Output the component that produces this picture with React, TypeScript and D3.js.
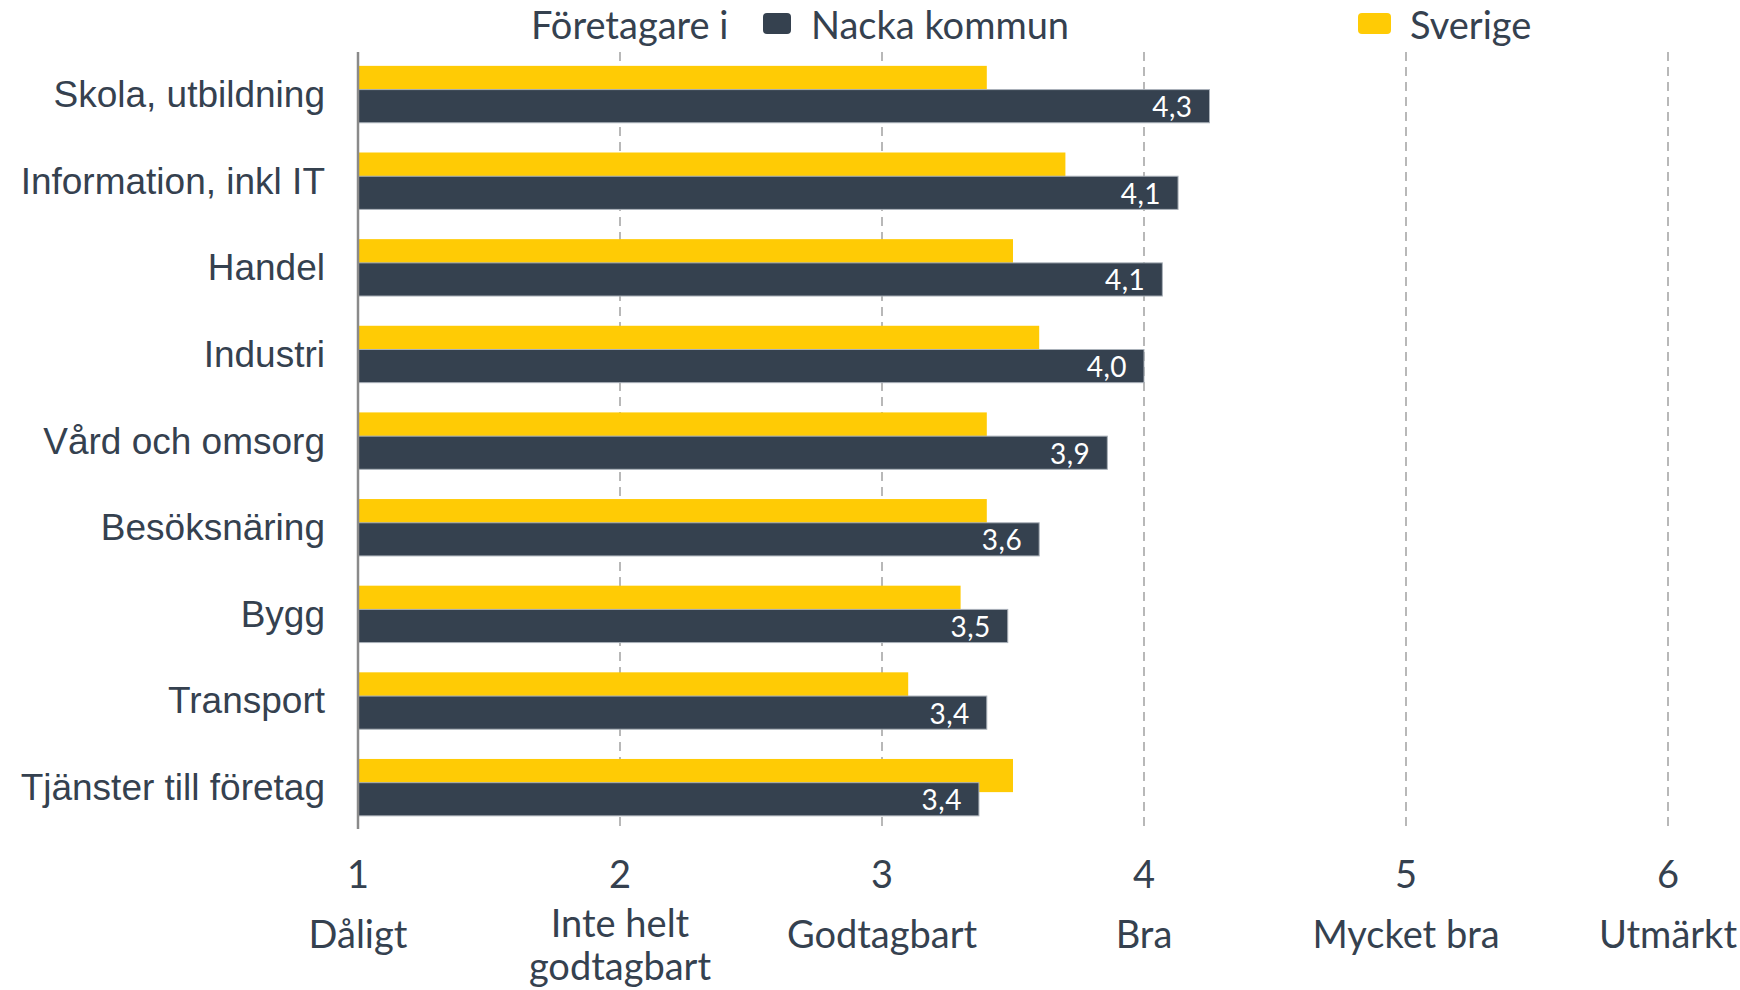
import React from "react";
import * as d3 from "d3";

const categories = [
  "Skola, utbildning",
  "Information, inkl IT",
  "Handel",
  "Industri",
  "Vård och omsorg",
  "Besöksnäring",
  "Bygg",
  "Transport",
  "Tjänster till företag",
];
const nackaValues = [4.25, 4.13, 4.07, 4.0, 3.86, 3.6, 3.48, 3.4, 3.37];
const sverigeValues = [3.4, 3.7, 3.5, 3.6, 3.4, 3.4, 3.3, 3.1, 3.5];
const tickValues = [1, 2, 3, 4, 5, 6];
const tickLabels = [["Dåligt"], ["Inte helt", "godtagbart"], ["Godtagbart"], ["Bra"], ["Mycket bra"], ["Utmärkt"]];
const legendTitle = "Företagare i";
const seriesNames = ["Nacka kommun", "Sverige"];

const DARK = "#35414f";
const YELLOW = "#ffcb05";
const TEXT = "#35414f";

export default function App() {
  const W = 1740;
  const H = 990;
  const x = d3.scaleLinear().domain([1, 6]).range([358, 1668]);
  const y = d3
    .scaleBand<string>()
    .domain(categories)
    .range([52, 830])
    .paddingInner(0.34)
    .paddingOuter(0.16);
  const bw = y.bandwidth();
  const barH = bw * 0.58;
  const darkOff = bw * 0.415;
  const fmt = (v: number) => d3.format(".1f")(v).replace(".", ",");
  const labelFont = "Lato, 'Open Sans', sans-serif";

  return (
    <svg
      width={W}
      height={H}
      style={{ position: "absolute", left: 0, top: 0, background: "#fff" }}
    >
      {/* grid lines */}
      {tickValues.slice(1).map((t) => (
        <line
          key={"g" + t}
          x1={x(t)}
          x2={x(t)}
          y1={52}
          y2={829}
          stroke="#b8b8b8"
          strokeWidth={2}
          strokeDasharray="9 6"
        />
      ))}
      {/* bars */}
      {categories.map((c, i) => (
        <g key={c}>
          <rect
            x={x(1)}
            y={y(c)!}
            width={x(sverigeValues[i]) - x(1)}
            height={barH}
            fill={YELLOW}
          />
          <rect
            x={x(1)}
            y={y(c)! + darkOff}
            width={x(nackaValues[i]) - x(1)}
            height={barH}
            fill={DARK}
            stroke="#aab1b9"
            strokeWidth={1}
          />
          <text
            x={x(nackaValues[i]) - 17}
            y={y(c)! + darkOff + barH / 2}
            textAnchor="end"
            dominantBaseline="central"
            fill="#fff"
            fontFamily={labelFont}
            fontSize={28}
            letterSpacing={0.5}
          >
            {fmt(nackaValues[i])}
          </text>
          <text
            x={325}
            y={y(c)! + bw / 2}
            textAnchor="end"
            dominantBaseline="central"
            fill={TEXT}
            fontFamily="'Liberation Sans', Arial, sans-serif"
            fontSize={37}
          >
            {c}
          </text>
        </g>
      ))}
      {/* axis line */}
      <line x1={x(1)} x2={x(1)} y1={52} y2={829} stroke="#8a8a8a" strokeWidth={2.5} />
      {/* bottom ticks */}
      {tickValues.map((t, i) => (
        <g key={"t" + t}>
          <text
            x={x(t)}
            y={873}
            textAnchor="middle"
            dominantBaseline="central"
            fill={TEXT}
            fontFamily={labelFont}
            fontSize={38}
          >
            {t}
          </text>
          {tickLabels[i].map((l, j) => (
            <text
              key={l}
              x={x(t)}
              y={tickLabels[i].length > 1 ? 922 + j * 43 : 933}
              textAnchor="middle"
              dominantBaseline="central"
              fill={TEXT}
              fontFamily={labelFont}
              fontSize={38}
            >
              {l}
            </text>
          ))}
        </g>
      ))}
      {/* legend */}
      <text x={531} y={24} dominantBaseline="central" fill={TEXT} fontFamily={labelFont} fontSize={38}>
        {legendTitle}
      </text>
      <rect x={763} y={13} width={28} height={21} rx={4} fill={DARK} />
      <text x={811} y={24} dominantBaseline="central" fill={TEXT} fontFamily={labelFont} fontSize={38}>
        {seriesNames[0]}
      </text>
      <rect x={1358} y={13} width={33} height={21} rx={4} fill={YELLOW} />
      <text x={1410} y={24} dominantBaseline="central" fill={TEXT} fontFamily={labelFont} fontSize={38}>
        {seriesNames[1]}
      </text>
    </svg>
  );
}
